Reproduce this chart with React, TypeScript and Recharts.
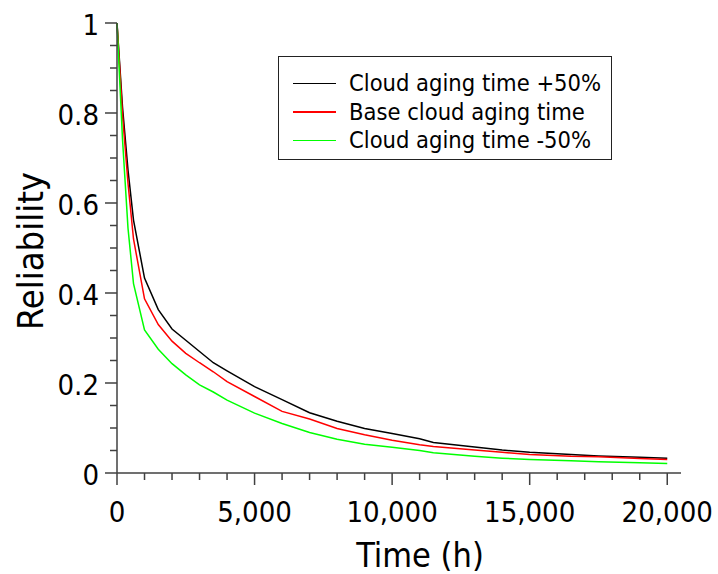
import { LineChart, Line, XAxis, YAxis, Legend } from 'recharts';

const times = [0, 200, 400, 600, 1000, 1500, 2000, 2500, 3000, 3500, 4000, 5000, 6000, 7000, 8000, 9000, 10000, 11000, 11500, 13000, 14000, 15000, 16500, 17500, 19000, 20000];
const agingPlus50 = [1, 0.813, 0.673, 0.562, 0.433, 0.363, 0.32, 0.295, 0.27, 0.245, 0.227, 0.192, 0.163, 0.134, 0.115, 0.099, 0.088, 0.076, 0.068, 0.058, 0.051, 0.046, 0.041, 0.038, 0.035, 0.033];
const agingBase = [1, 0.796, 0.644, 0.52, 0.387, 0.33, 0.293, 0.266, 0.245, 0.225, 0.203, 0.17, 0.137, 0.12, 0.099, 0.085, 0.073, 0.063, 0.059, 0.051, 0.046, 0.041, 0.037, 0.036, 0.032, 0.03];
const agingMinus50 = [1, 0.742, 0.544, 0.421, 0.318, 0.275, 0.243, 0.218, 0.196, 0.18, 0.162, 0.133, 0.11, 0.09, 0.075, 0.064, 0.057, 0.05, 0.045, 0.037, 0.033, 0.03, 0.027, 0.025, 0.023, 0.021];

const seriesNames = ['Cloud aging time +50%', 'Base cloud aging time', 'Cloud aging time -50%'];
const seriesColors = ['#000000', '#ff0000', '#00ff00'];

const xTicks = [0, 1000, 2000, 3000, 4000, 5000, 6000, 7000, 8000, 9000, 10000, 11000, 12000, 13000, 14000, 15000, 16000, 17000, 18000, 19000, 20000];
const xMajor = [0, 5000, 10000, 15000, 20000];
const xLabels = ['0', '5,000', '10,000', '15,000', '20,000'];
const yTicks = [0, 0.05, 0.1, 0.15, 0.2, 0.25, 0.3, 0.35, 0.4, 0.45, 0.5, 0.55, 0.6, 0.65, 0.7, 0.75, 0.8, 0.85, 0.9, 0.95, 1];
const yMajor = [0, 0.2, 0.4, 0.6, 0.8, 1];
const yLabels = ['0', '0.2', '0.4', '0.6', '0.8', '1'];

const data = times.map((t, i) => ({
  t,
  plus: agingPlus50[i],
  base: agingBase[i],
  minus: agingMinus50[i],
}));

const FONT = "'DejaVu Sans', sans-serif";
const TEXT_STYLE = { fontStretch: 'condensed' as const };
const AXIS = '#404040';

function XTick(props: any) {
  const { x, y, payload } = props;
  const idx = xMajor.indexOf(payload.value);
  const major = idx >= 0;
  return (
    <g>
      <line x1={x} y1={y} x2={x} y2={y + (major ? 12 : 7)} stroke={AXIS} strokeWidth={1.5} />
      {major && (
        <text x={x} y={y + 49} textAnchor="middle" fontSize={29} fontFamily={FONT} style={TEXT_STYLE} fill="#000">
          {xLabels[idx]}
        </text>
      )}
    </g>
  );
}

function YTick(props: any) {
  const { x, y, payload } = props;
  const idx = yMajor.findIndex(v => Math.abs(v - payload.value) < 1e-6);
  const major = idx >= 0;
  return (
    <g>
      <line x1={x} y1={y} x2={x - (major ? 12 : 7)} y2={y} stroke={AXIS} strokeWidth={1.5} />
      {major && (
        <text x={x - 18} y={y + 12} textAnchor="end" fontSize={29} fontFamily={FONT} style={TEXT_STYLE} fill="#000">
          {yLabels[idx]}
        </text>
      )}
    </g>
  );
}

function LegendBox() {
  return (
    <div style={{
      width: 334, height: 104, border: '1.5px solid #222', background: '#fff',
      fontFamily: FONT, fontStretch: 'condensed', fontSize: 23.5, color: '#000', paddingTop: 12, boxSizing: 'border-box',
    }}>
      {seriesNames.map((name, i) => (
        <div key={name} style={{ display: 'flex', alignItems: 'center', height: 28.5 }}>
          <div style={{ marginLeft: 14, width: 43, height: 1.5, background: seriesColors[i] }} />
          <span style={{ marginLeft: 13, lineHeight: '28px', whiteSpace: 'nowrap' }}>{name}</span>
        </div>
      ))}
    </div>
  );
}

export default function App() {
  return (
    <div style={{ position: 'absolute', left: 0, top: 0, width: 718, height: 574, background: '#fff' }}>
      <LineChart width={718} height={574} data={data} margin={{ top: 23, right: 37, bottom: 0, left: 0 }}>
        <XAxis
          dataKey="t"
          type="number"
          domain={[0, 20500]}
          ticks={xTicks}
          interval={0}
          height={101}
          tickSize={0}
          tickMargin={0}
          tickLine={false}
          axisLine={{ stroke: AXIS, strokeWidth: 1.5 }}
          tick={<XTick />}
          label={{
            content: () => (
              <text x={420} y={567} textAnchor="middle" fontSize={34} fontFamily={FONT} style={TEXT_STYLE} fill="#000">Time (h)</text>
            ),
          }}
        />
        <YAxis
          type="number"
          domain={[0, 1]}
          ticks={yTicks}
          interval={0}
          width={117}
          tickSize={0}
          tickMargin={0}
          tickLine={false}
          axisLine={{ stroke: AXIS, strokeWidth: 1.5 }}
          tick={<YTick />}
          label={{
            content: () => (
              <text x={43} y={251} transform="rotate(-90 43 251)" textAnchor="middle" fontSize={36} fontFamily={FONT} style={TEXT_STYLE} fill="#000">Reliability</text>
            ),
          }}
        />
        <Legend
          layout="horizontal"
          verticalAlign="middle"
          align="center"
          wrapperStyle={{ left: 278, top: 56, width: 'auto', height: 'auto' }}
          content={<LegendBox />}
        />
        <Line type="linear" dataKey="plus" name={seriesNames[0]} stroke={seriesColors[0]} strokeWidth={1.5} dot={false} isAnimationActive={false} />
        <Line type="linear" dataKey="base" name={seriesNames[1]} stroke={seriesColors[1]} strokeWidth={1.5} dot={false} isAnimationActive={false} />
        <Line type="linear" dataKey="minus" name={seriesNames[2]} stroke={seriesColors[2]} strokeWidth={1.5} dot={false} isAnimationActive={false} />
      </LineChart>
    </div>
  );
}
